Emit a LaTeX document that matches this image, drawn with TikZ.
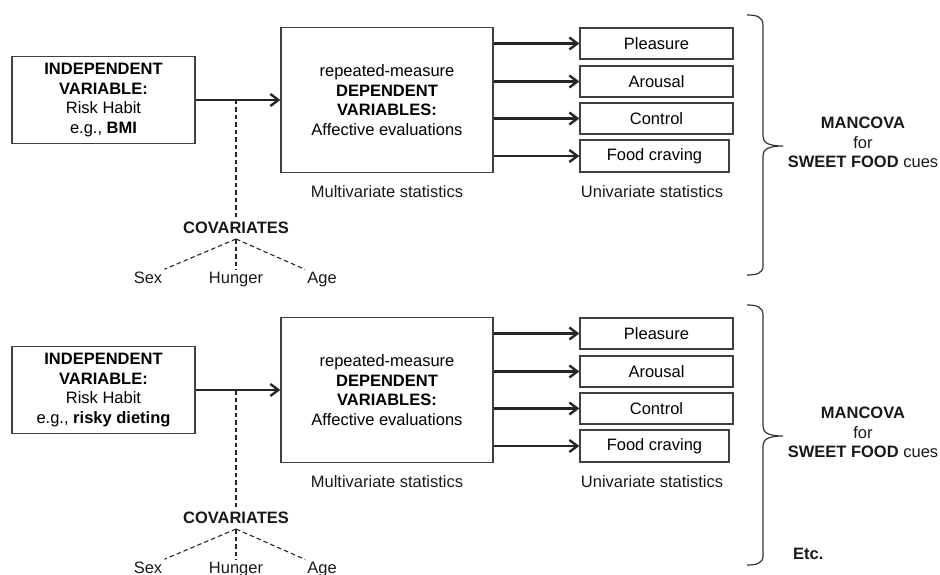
\documentclass[tikz,border=0pt]{standalone}
\usepackage{fontspec}
\setmainfont{Liberation Sans}
\usetikzlibrary{arrows.meta}
\begin{document}
\begin{tikzpicture}[x=1pt,y=-1pt,
  font=\fontsize{16.5}{19.5}\selectfont,
  box/.style={draw=black!75, line width=1.3pt, inner sep=0pt, align=center},
  arr/.style={line width=2.2pt, draw=black!85, -{Straight Barb[length=8pt,width=12pt,line width=2.4pt]}},
  covline/.style={draw=black!85, line width=1.1pt, dash pattern=on 4.5pt off 3pt},
  lbl/.style={inner sep=2pt, text=black!90},
  bracepath/.style={draw=black!80, line width=1.2pt}
]
\useasboundingbox (0,0) rectangle (940,575);

\foreach \s/\off/\ex in {a/0/BMI, b/290/risky dieting}{
\begin{scope}[yshift=-\off pt]
  % independent variable
  \node[box, minimum width=183pt, minimum height=87pt] (iv\s) at (103.5,100)
    {\textbf{INDEPENDENT}\\\textbf{VARIABLE:}\\Risk Habit\\e.g., \textbf{\ex}};
  % dependent variables
  \node[box, minimum width=212pt, minimum height=145pt] (dv\s) at (387,100)
    {repeated-measure\\\textbf{DEPENDENT}\\\textbf{VARIABLES:}\\Affective evaluations};
  % outcome boxes
  \node[box, minimum width=153pt, minimum height=31pt] (pl\s) at (656.5,43.5) {Pleasure};
  \node[box, minimum width=153pt, minimum height=31pt] (ar\s) at (656.5,81.5) {Arousal};
  \node[box, minimum width=153pt, minimum height=31pt] (co\s) at (656.5,118.5) {Control};
  \node[box, minimum width=149pt, minimum height=32pt] (fc\s) at (654.5,156) {Food craving};
  % stats labels
  \node[lbl, anchor=base] (mv\s) at (387,197) {Multivariate statistics};
  \node[lbl, anchor=base] (uv\s) at (652,197) {Univariate statistics};
  % arrows
  \draw[arr] (iv\s.east) -- (dv\s.west |- iv\s.east);
  \draw[arr] (dv\s.east |- pl\s) -- (pl\s);
  \draw[arr] (dv\s.east |- ar\s) -- (ar\s);
  \draw[arr] (dv\s.east |- co\s) -- (co\s);
  \draw[arr] (dv\s.east |- fc\s) -- (fc\s);
  % covariates
  \coordinate (j\s) at (236,100);
  \node[lbl, anchor=base] (cov\s) at (236,233) {\textbf{COVARIATES}};
  \coordinate (ap\s) at (236,239);
  \node[lbl, anchor=base] (sex\s) at (148,283) {Sex};
  \node[lbl, anchor=base] (hun\s) at (236,283) {Hunger};
  \node[lbl, anchor=base] (age\s) at (322,283) {Age};
  \draw[covline] (j\s) -- (cov\s.north);
  \draw[covline] (ap\s) -- (sex\s.north east);
  \draw[covline] (ap\s) -- (hun\s.north);
  \draw[covline] (ap\s) -- (age\s.north west);
  % brace
  \draw[bracepath] (747,15) .. controls (757,15) and (763,17) .. (763,25)
     -- (763,136) .. controls (763,142) and (767,146) .. (783,146)
     .. controls (767,146) and (763,150) .. (763,156)
     -- (763,266) .. controls (763,273) and (757,275) .. (747,275);
  \node[lbl, align=center] (mc\s) at (863,142.5)
    {\textbf{MANCOVA}\\for\\\textbf{SWEET FOOD} cues};
\end{scope}
}
\node[lbl, anchor=base west, inner sep=0pt] (etc) at (793,559) {\textbf{Etc.}};
\end{tikzpicture}
\end{document}
